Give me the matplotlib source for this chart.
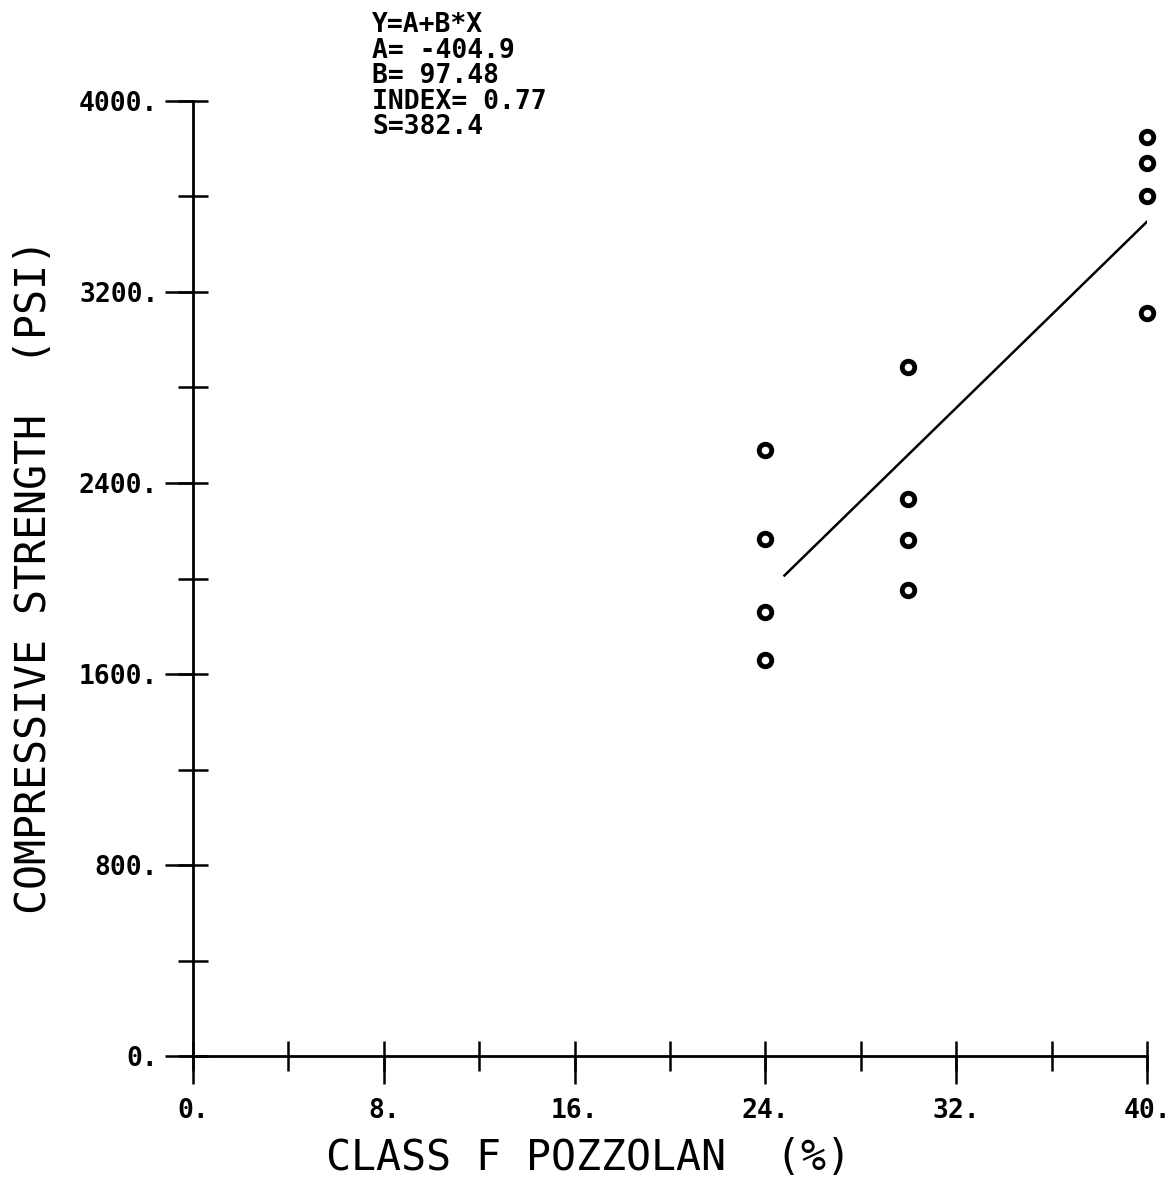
import matplotlib.pyplot as plt
from matplotlib.ticker import MultipleLocator, FixedLocator

pozzolan = [24, 24, 24, 24, 30, 30, 30, 30, 40, 40, 40, 40]
strength = [2538, 2165, 1860, 1659, 2886, 2333, 2161, 1952, 3849, 3740, 3602, 3112]

A = -404.9
B = 97.48
fit_x = [24.8, 40.0]

x_ticks = [0, 8, 16, 24, 32, 40]
x_labels = ['0.', '8.', '16.', '24.', '32.', '40.']
y_ticks = [0, 800, 1600, 2400, 3200, 4000]
y_labels = ['0.', '800.', '1600.', '2400.', '3200.', '4000.']

stats_lines = ['Y=A+B*X', 'A= -404.9', 'B= 97.48', 'INDEX= 0.77', 'S=382.4']

plt.rcParams['font.family'] = ['DejaVu Sans Mono']

fig = plt.figure(figsize=(11.70, 11.84), dpi=100)
ax = fig.add_axes([0.165, 0.1081, 0.8153, 0.8066])

ax.plot(pozzolan, strength, linestyle='none', marker='o', markersize=9,
        markerfacecolor='white', markeredgecolor='black', markeredgewidth=3.5, clip_on=False)
ax.plot(fit_x, [A + B * v for v in fit_x], color='black', linewidth=1.8)

ax.set_xlim(0, 40)
ax.set_ylim(0, 4000)

for s in ['top', 'right']:
    ax.spines[s].set_visible(False)
for s in ['left', 'bottom']:
    ax.spines[s].set_linewidth(2)

ax.xaxis.set_major_locator(FixedLocator(x_ticks))
ax.yaxis.set_major_locator(FixedLocator(y_ticks))
ax.xaxis.set_minor_locator(MultipleLocator(4))
ax.yaxis.set_minor_locator(MultipleLocator(400))
ax.xaxis.remove_overlapping_locs = False
ax.yaxis.remove_overlapping_locs = False
ax.set_xticklabels(x_labels)
ax.set_yticklabels(y_labels)

ax.tick_params(which='major', direction='out', length=20, width=1.8,
               labelsize=19, pad=5)
ax.tick_params(axis='x', which='major', pad=10)
ax.tick_params(which='minor', direction='inout', length=22, width=1.8)
for lbl in ax.get_xticklabels() + ax.get_yticklabels():
    lbl.set_fontweight('bold')

# axis titles placed where the plotter put them
fig.text(589 / 1170, 1 - 1158 / 1184, 'CLASS F POZZOLAN  (%)', fontsize=30,
         ha='center', va='center')
fig.text(34 / 1170, 1 - 576 / 1184, 'COMPRESSIVE STRENGTH  (PSI)', fontsize=30,
         rotation=90, ha='center', va='center')

fig.text(372 / 1170, 1 - 12 / 1184, '\n'.join(stats_lines), fontsize=19,
         fontweight='bold', va='top', ha='left', linespacing=0.98)

plt.savefig('out.png', dpi=100)
